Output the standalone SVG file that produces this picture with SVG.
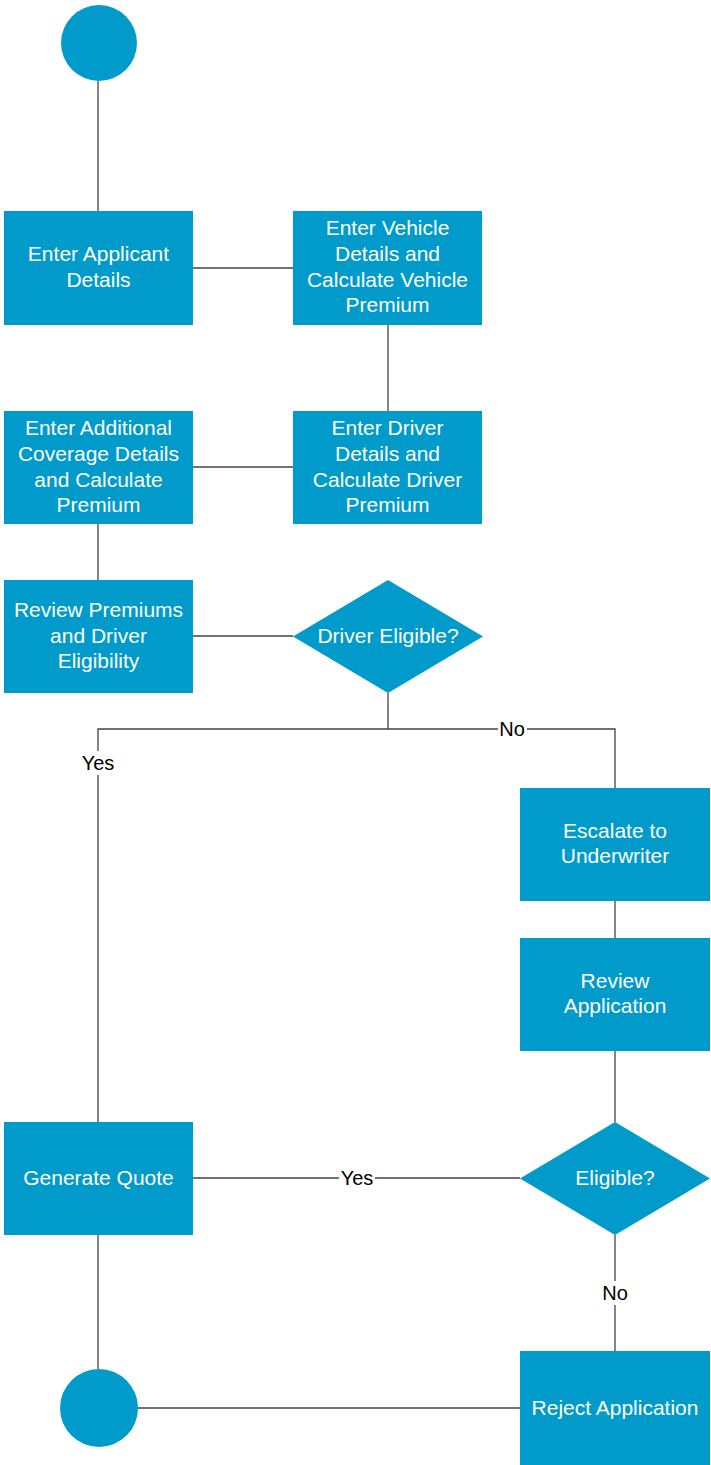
<svg xmlns="http://www.w3.org/2000/svg" width="711" height="1465" viewBox="0 0 711 1465">
  <style>
    .shape { fill: #009bcb; }
    .lbl { font-family: "Liberation Sans", Arial, sans-serif; font-size: 21px; fill: #ffffff; text-anchor: middle; }
    .edge { stroke: #444444; stroke-width: 1.3; fill: none; }
    .elbl { font-family: "Liberation Sans", Arial, sans-serif; font-size: 20px; fill: #000000; text-anchor: middle; }
    .bg { fill: #ffffff; }
  </style>
  <rect width="711" height="1465" fill="#ffffff"/>

  <!-- connectors -->
  <g id="connectors">
    <path class="edge" d="M98,81 V211"/>
    <path class="edge" d="M193,268 H293"/>
    <path class="edge" d="M388,325 V411"/>
    <path class="edge" d="M193,467 H293"/>
    <path class="edge" d="M98,524 V580"/>
    <path class="edge" d="M193,636 H293"/>
    <path class="edge" d="M388,693 V729 H98 V1122"/>
    <path class="edge" d="M388,729 H615 V788"/>
    <path class="edge" d="M615,901 V938"/>
    <path class="edge" d="M615,1051 V1122"/>
    <path class="edge" d="M520,1178 H193"/>
    <path class="edge" d="M615,1235 V1351"/>
    <path class="edge" d="M98,1235 V1369"/>
    <path class="edge" d="M520,1408 H137"/>
    <!-- edge labels -->
    <rect class="bg" x="80" y="751" width="36" height="24"/>
    <text class="elbl" x="98" y="770">Yes</text>
    <rect class="bg" x="498" y="717" width="29" height="24"/>
    <text class="elbl" x="512" y="736">No</text>
    <rect class="bg" x="339" y="1166" width="36" height="24"/>
    <text class="elbl" x="357" y="1185">Yes</text>
    <rect class="bg" x="601" y="1281" width="29" height="24"/>
    <text class="elbl" x="615" y="1300">No</text>
  </g>

  <g id="start">
    <circle class="shape" cx="99" cy="43" r="38"/>
  </g>

  <g id="enter-applicant">
    <rect class="shape" x="4" y="211" width="189" height="114"/>
    <text class="lbl" x="98.5" y="261">Enter Applicant</text>
    <text class="lbl" x="98.5" y="287">Details</text>
  </g>

  <g id="enter-vehicle">
    <rect class="shape" x="293" y="211" width="189" height="114"/>
    <text class="lbl" x="387.5" y="235">Enter Vehicle</text>
    <text class="lbl" x="387.5" y="261">Details and</text>
    <text class="lbl" x="387.5" y="287">Calculate Vehicle</text>
    <text class="lbl" x="387.5" y="312">Premium</text>
  </g>

  <g id="enter-driver">
    <rect class="shape" x="293" y="411" width="189" height="113"/>
    <text class="lbl" x="387.5" y="435">Enter Driver</text>
    <text class="lbl" x="387.5" y="461">Details and</text>
    <text class="lbl" x="387.5" y="487">Calculate Driver</text>
    <text class="lbl" x="387.5" y="512">Premium</text>
  </g>

  <g id="enter-coverage">
    <rect class="shape" x="4" y="411" width="189" height="113"/>
    <text class="lbl" x="98.5" y="435">Enter Additional</text>
    <text class="lbl" x="98.5" y="461">Coverage Details</text>
    <text class="lbl" x="98.5" y="487">and Calculate</text>
    <text class="lbl" x="98.5" y="512">Premium</text>
  </g>

  <g id="review-premiums">
    <rect class="shape" x="4" y="580" width="189" height="113"/>
    <text class="lbl" x="98.5" y="617">Review Premiums</text>
    <text class="lbl" x="98.5" y="643">and Driver</text>
    <text class="lbl" x="98.5" y="668">Eligibility</text>
  </g>

  <g id="driver-eligible">
    <polygon class="shape" points="388,580 483,636.5 388,693 293,636.5"/>
    <text class="lbl" x="388" y="643">Driver Eligible?</text>
  </g>

  <g id="escalate">
    <rect class="shape" x="520" y="788" width="190" height="113"/>
    <text class="lbl" x="615" y="838">Escalate to</text>
    <text class="lbl" x="615" y="863">Underwriter</text>
  </g>

  <g id="review-application">
    <rect class="shape" x="520" y="938" width="190" height="113"/>
    <text class="lbl" x="615" y="988">Review</text>
    <text class="lbl" x="615" y="1013">Application</text>
  </g>

  <g id="eligible">
    <polygon class="shape" points="615,1122 710,1178.5 615,1235 520,1178.5"/>
    <text class="lbl" x="615" y="1185">Eligible?</text>
  </g>

  <g id="generate-quote">
    <rect class="shape" x="4" y="1122" width="189" height="113"/>
    <text class="lbl" x="98.5" y="1185">Generate Quote</text>
  </g>

  <g id="reject">
    <rect class="shape" x="520" y="1351" width="190" height="114"/>
    <text class="lbl" x="615" y="1415">Reject Application</text>
  </g>

  <g id="end">
    <circle class="shape" cx="99" cy="1408" r="39"/>
  </g>
</svg>
